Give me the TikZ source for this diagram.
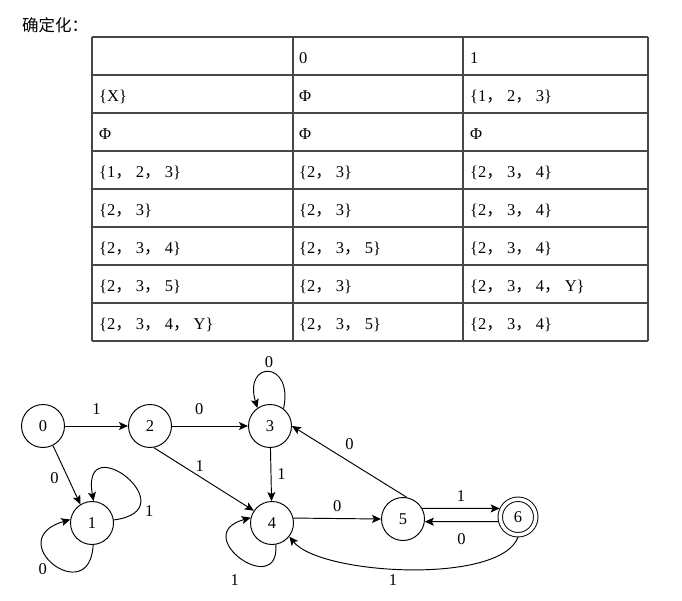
\documentclass[tikz,border=0pt]{standalone}
\usepackage{fontspec}
\setmainfont{Liberation Serif}
\newfontfamily\cjk{Noto Sans CJK SC}
\usetikzlibrary{arrows.meta,positioning}
\newcommand{\zc}{{\cjk ，}\hspace{0.25em}}

\begin{document}
\begin{tikzpicture}[
    x=1pt, y=-1pt,
    every node/.style={font=\fontsize{16.5}{20}\selectfont},
    cell/.style={anchor=base west, inner sep=0pt},
    tline/.style={draw=black!72, line width=1.1pt},
    state/.style={circle, draw, line width=0.95pt, minimum size=43pt, inner sep=0pt},
    final/.style={state, minimum size=35.5pt, double, double distance=3.5pt, outer sep=2.5pt},
    lbl/.style={inner sep=1pt},
    trans/.style={-{Stealth[length=9pt, width=8pt, inset=2pt]}, line width=0.95pt}
  ]
  \useasboundingbox (0,0) rectangle (682,601);

  % Titel
  \node[anchor=west, inner sep=0pt] (title) at (22,25) {\cjk 确定化：};

  % Tabelle
  \foreach \y in {37,75,...,341} \draw[tline] (92,\y) -- (648,\y);
  \foreach \x in {92,293,463,648} \draw[tline] (\x,37) -- (\x,341);

  \foreach \a/\b/\c [count=\i from 0] in {
      {}/0/1,
      {\{X\}}/Φ/{\{1\zc 2\zc 3\}},
      Φ/Φ/Φ,
      {\{1\zc 2\zc 3\}}/{\{2\zc 3\}}/{\{2\zc 3\zc 4\}},
      {\{2\zc 3\}}/{\{2\zc 3\}}/{\{2\zc 3\zc 4\}},
      {\{2\zc 3\zc 4\}}/{\{2\zc 3\zc 5\}}/{\{2\zc 3\zc 4\}},
      {\{2\zc 3\zc 5\}}/{\{2\zc 3\}}/{\{2\zc 3\zc 4\zc Y\}},
      {\{2\zc 3\zc 4\zc Y\}}/{\{2\zc 3\zc 5\}}/{\{2\zc 3\zc 4\}}}{
    \pgfmathsetmacro\yb{63.5+38*\i}
    \node[cell] (c\i-0) at (99,\yb) {\a};
    \node[cell] (c\i-1) at (299,\yb) {\b};
    \node[cell] (c\i-2) at (470,\yb) {\c};
  }

  % Zustaende
  \node[state] (s0) at (43,426) {0};
  \node[state] (s2) at (150,426) {2};
  \node[state] (s3) at (270,426) {3};
  \node[state] (s1) at (92,523) {1};
  \node[state] (s4) at (272,523) {4};
  \node[state] (s5) at (403,519) {5};
  \node[final] (s6) at (518,517) {6};

  % Uebergaenge
  \draw[trans] (s0) -- node[lbl, above=10pt] {1} (s2);
  \draw[trans] (s2) -- node[lbl, pos=0.36, above=10pt] {0} (s3);
  \draw[trans] (s0.-63) -- node[lbl, pos=0.55, left=8pt] {0} (s1.122);
  \draw[trans] (s2.-80) -- node[lbl, pos=0.46, above=4pt] {1} (s4.146);
  \draw[trans] (s3) -- node[lbl, right=5pt] {1} (s4);
  \draw[trans] (s4.13) -- node[lbl, above=5pt] {0} (s5.west);
  \draw[trans] (s5.80) -- node[lbl, above=11pt] {0} (s3.east);
  \draw[trans] (s5.29) -- node[lbl, above=5pt] {1} (s6.155);
  \draw[trans] (s6.193) -- node[lbl, below=10pt] {0} (s5.-7);

  % Schleifen
  \draw[trans] (s3.52) .. controls (294,360) and (243,360) .. node[lbl, above=3pt] {0} (s3.125);
  \draw[trans] (s1.8) .. controls (190,510) and (80,425) .. node[lbl, pos=0.15, right=7pt] {1} (s1.86);
  \draw[trans] (s1.-87) .. controls (90,610) and (0,540) .. node[lbl, pos=0.55, below left=2pt and 2pt] {0} (s1.171);
  \draw[trans] (s4.-80) .. controls (280,600) and (188,535) .. node[lbl, pos=0.5, below left=15pt and 1pt] {1} (s4.166);

  % Rueckweg 6 -> 4
  \draw[trans] (s6.south) .. controls (500,585) and (320,575) .. node[lbl, pos=0.55, below=5pt] {1} (s4.-38);
\end{tikzpicture}
\end{document}
